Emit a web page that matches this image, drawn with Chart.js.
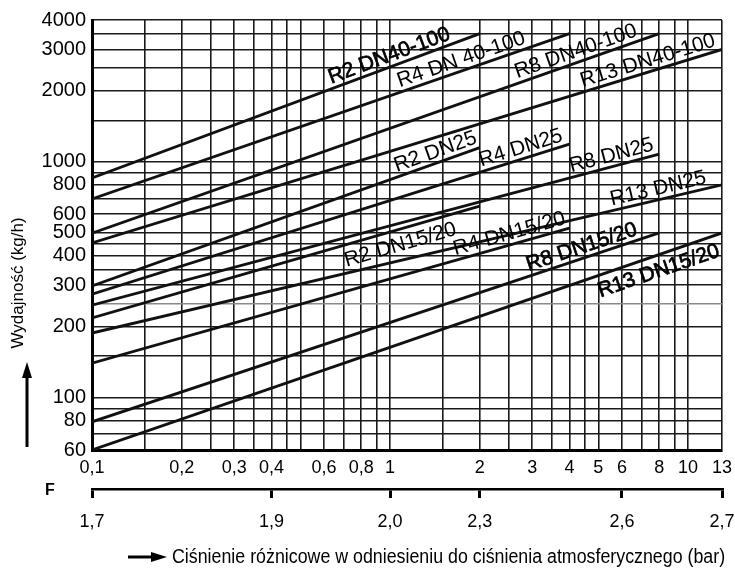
<!DOCTYPE html>
<html>
<head>
<meta charset="utf-8">
<script src="https://cdn.jsdelivr.net/npm/chart.js@4/dist/chart.umd.min.js"></script>
<style>
  body { margin: 0; background: #fff; }
</style>
</head>
<body>
<canvas id="chart" width="735" height="574"></canvas>
<script>
// grid and tick values
const gridPressure = [0.1, 0.15, 0.2, 0.25, 0.3, 0.35, 0.4, 0.45, 0.5, 0.6, 0.7, 0.8, 0.9, 1, 1.5, 2, 2.5, 3, 3.5, 4, 4.5, 5, 6, 7, 8, 9, 10, 13];
const labeledPressure = [0.1, 0.2, 0.3, 0.4, 0.6, 0.8, 1, 2, 3, 4, 5, 6, 8, 10, 13];
const gridFlow = [60, 70, 80, 90, 100, 150, 200, 250, 300, 350, 400, 450, 500, 600, 700, 800, 900, 1000, 1500, 2000, 2500, 3000, 3500, 4000];
const labeledFlow = [60, 80, 100, 200, 300, 400, 500, 600, 800, 1000, 2000, 3000, 4000];
const fPressure = [0.1, 0.4, 1, 2, 6, 13];
const fLabels = ["1,7", "1,9", "2,0", "2,3", "2,6", "2,7"];

// curves: each one runs from 0.1 bar to its end point
const seriesNames = ["R2 DN40-100", "R4 DN 40-100", "R8 DN40-100", "R13 DN40-100",
  "R2 DN25", "R4 DN25", "R8 DN25", "R13 DN25",
  "R2 DN15/20", "R4 DN15/20", "R8 DN15/20", "R13 DN15/20"];
const startPressure = 0.1;
const startFlow = [855, 696, 499, 453, 298, 275, 247, 188, 218, 140, 79, 60];
const endPressure = [2, 4, 8, 13, 2, 4, 8, 13, 2, 4, 8, 13];
const endFlow = [3500, 3500, 3500, 3000, 1150, 1190, 1080, 800, 650, 524, 500, 500];

// where each curve label ends (pressure), which side of the line, heavier print
const labelPlacement = [
  { at: 1.63, below: false, heavy: true },
  { at: 2.91, below: false, heavy: false },
  { at: 6.9, below: false, heavy: false },
  { at: 12.6, below: false, heavy: false },
  { at: 2.0, below: false, heavy: false },
  { at: 3.87, below: false, heavy: false },
  { at: 7.8, below: false, heavy: false },
  { at: 11.7, below: false, heavy: false },
  { at: 1.61, below: true, heavy: false },
  { at: 3.95, below: false, heavy: false },
  { at: 6.9, below: false, heavy: true },
  { at: 12.2, below: true, heavy: true }
];

const yTitle = "Wydajność (kg/h)";
const xTitle = "Ciśnienie różnicowe w odniesieniu do ciśnienia atmosferycznego (bar)";

const sans = '"Liberation Sans", Arial, sans-serif';

function commaNumber(v) {
  return String(v).replace(".", ",");
}

function noScalePadding(s) {
  s.paddingLeft = 0;
  s.paddingRight = 0;
  s.paddingTop = 0;
  s.paddingBottom = 0;
}

function drawArrow(ctx, x1, y1, x2, y2, head, half) {
  const ang = Math.atan2(y2 - y1, x2 - x1);
  ctx.save();
  ctx.translate(x1, y1);
  ctx.rotate(ang);
  const len = Math.hypot(x2 - x1, y2 - y1);
  ctx.lineWidth = 3;
  ctx.beginPath();
  ctx.moveTo(0, 0);
  ctx.lineTo(len - head + 1, 0);
  ctx.stroke();
  ctx.beginPath();
  ctx.moveTo(len, 0);
  ctx.lineTo(len - head, -half);
  ctx.lineTo(len - head, half);
  ctx.closePath();
  ctx.fill();
  ctx.restore();
}

const curveLabels = {
  id: "curveLabels",
  afterDatasetsDraw(chart) {
    const { ctx, scales: { x, y } } = chart;
    ctx.save();
    ctx.fillStyle = "#000";
    ctx.strokeStyle = "#000";
    ctx.lineWidth = 0.7;
    ctx.font = "21px " + sans;
    seriesNames.forEach((name, i) => {
      const place = labelPlacement[i];
      const x1 = x.getPixelForValue(startPressure);
      const y1 = y.getPixelForValue(startFlow[i]);
      const x2 = x.getPixelForValue(endPressure[i]);
      const y2 = y.getPixelForValue(endFlow[i]);
      const ang = Math.atan2(y2 - y1, x2 - x1);
      const px = x.getPixelForValue(place.at);
      const py = y1 + (y2 - y1) * (px - x1) / (x2 - x1);
      ctx.save();
      ctx.translate(px, py);
      ctx.rotate(ang);
      ctx.textAlign = "right";
      let ty = -5;
      if (place.below) {
        ctx.textBaseline = "top";
        ty = 5;
      } else {
        ctx.textBaseline = "alphabetic";
      }
      ctx.fillText(name, 0, ty);
      if (place.heavy) ctx.strokeText(name, 0, ty);
      ctx.restore();
    });
    ctx.restore();
  }
};

const decorations = {
  id: "decorations",
  afterDraw(chart) {
    const { ctx, chartArea: a, scales: { f } } = chart;
    ctx.save();
    ctx.fillStyle = "#000";
    ctx.strokeStyle = "#000";

    ctx.save();
    ctx.translate(18, 283);
    ctx.rotate(-Math.PI / 2);
    ctx.font = "17px " + sans;
    ctx.textAlign = "center";
    ctx.textBaseline = "middle";
    ctx.fillText(yTitle, 0, 0);
    ctx.restore();
    drawArrow(ctx, 27, a.bottom - 3, 27, 362, 16, 5);

    ctx.font = "bold 16px " + sans;
    ctx.textAlign = "center";
    ctx.textBaseline = "middle";
    ctx.fillText("F", 50, f.top + 2);

    drawArrow(ctx, 128, 557, 167, 557, 16, 5);
    // condensed like the original lettering
    ctx.save();
    ctx.translate(172, 557);
    ctx.scale(0.89, 1);
    ctx.font = "20px " + sans;
    ctx.textAlign = "left";
    ctx.fillText(xTitle, 0, 0);
    ctx.restore();
    ctx.restore();
  }
};

const datasets = seriesNames.map((name, i) => ({
  label: name,
  data: [{ x: startPressure, y: startFlow[i] }, { x: endPressure[i], y: endFlow[i] }],
  borderColor: "#111",
  borderWidth: 2.8,
  pointRadius: 0,
  fill: false,
  tension: 0
}));

new Chart(document.getElementById("chart"), {
  type: "line",
  data: { datasets },
  plugins: [curveLabels, decorations],
  options: {
    responsive: false,
    animation: false,
    devicePixelRatio: 1,
    layout: { padding: { left: 0, right: 13, top: 20, bottom: 33 } },
    plugins: { legend: { display: false }, tooltip: { enabled: false } },
    scales: {
      x: {
        type: "logarithmic",
        position: "bottom",
        min: 0.1,
        max: 13,
        afterBuildTicks: (s) => { s.ticks = gridPressure.map((v) => ({ value: v })); },
        afterFit: (s) => { s.height = 39; noScalePadding(s); },
        ticks: {
          autoSkip: false,
          maxRotation: 0,
          padding: 7,
          color: "#000",
          font: { family: sans, size: 18 },
          callback: (v) => (labeledPressure.includes(v) ? commaNumber(v) : "")
        },
        grid: { color: "#1a1a1a", lineWidth: 1.6, drawTicks: false },
        border: { color: "#000", width: 3 }
      },
      f: {
        type: "logarithmic",
        position: "bottom",
        weight: 1,
        min: 0.1,
        max: 13,
        afterBuildTicks: (s) => { s.ticks = fPressure.map((v) => ({ value: v })); },
        afterFit: (s) => { s.height = 52; noScalePadding(s); },
        ticks: {
          autoSkip: false,
          maxRotation: 0,
          padding: 13,
          color: "#000",
          font: { family: sans, size: 18 },
          callback: (v, i) => fLabels[i]
        },
        grid: { drawOnChartArea: false, drawTicks: true, tickLength: 9, lineWidth: 3, color: "#000" },
        border: { color: "#000", width: 2.5 }
      },
      y: {
        type: "logarithmic",
        min: 60,
        max: 4000,
        afterBuildTicks: (s) => { s.ticks = gridFlow.map((v) => ({ value: v })); },
        afterFit: (s) => { s.width = 92; noScalePadding(s); },
        ticks: {
          autoSkip: false,
          padding: 6,
          color: "#000",
          font: { family: sans, size: 20 },
          callback: (v) => (labeledFlow.includes(v) ? String(v) : "")
        },
        grid: {
          color: (c) => (c.tick && c.tick.value === 250 ? "#8a8a8a" : "#1a1a1a"),
          lineWidth: 1.6,
          drawTicks: false
        },
        border: { color: "#000", width: 3 }
      }
    }
  }
});
</script>
</body>
</html>
